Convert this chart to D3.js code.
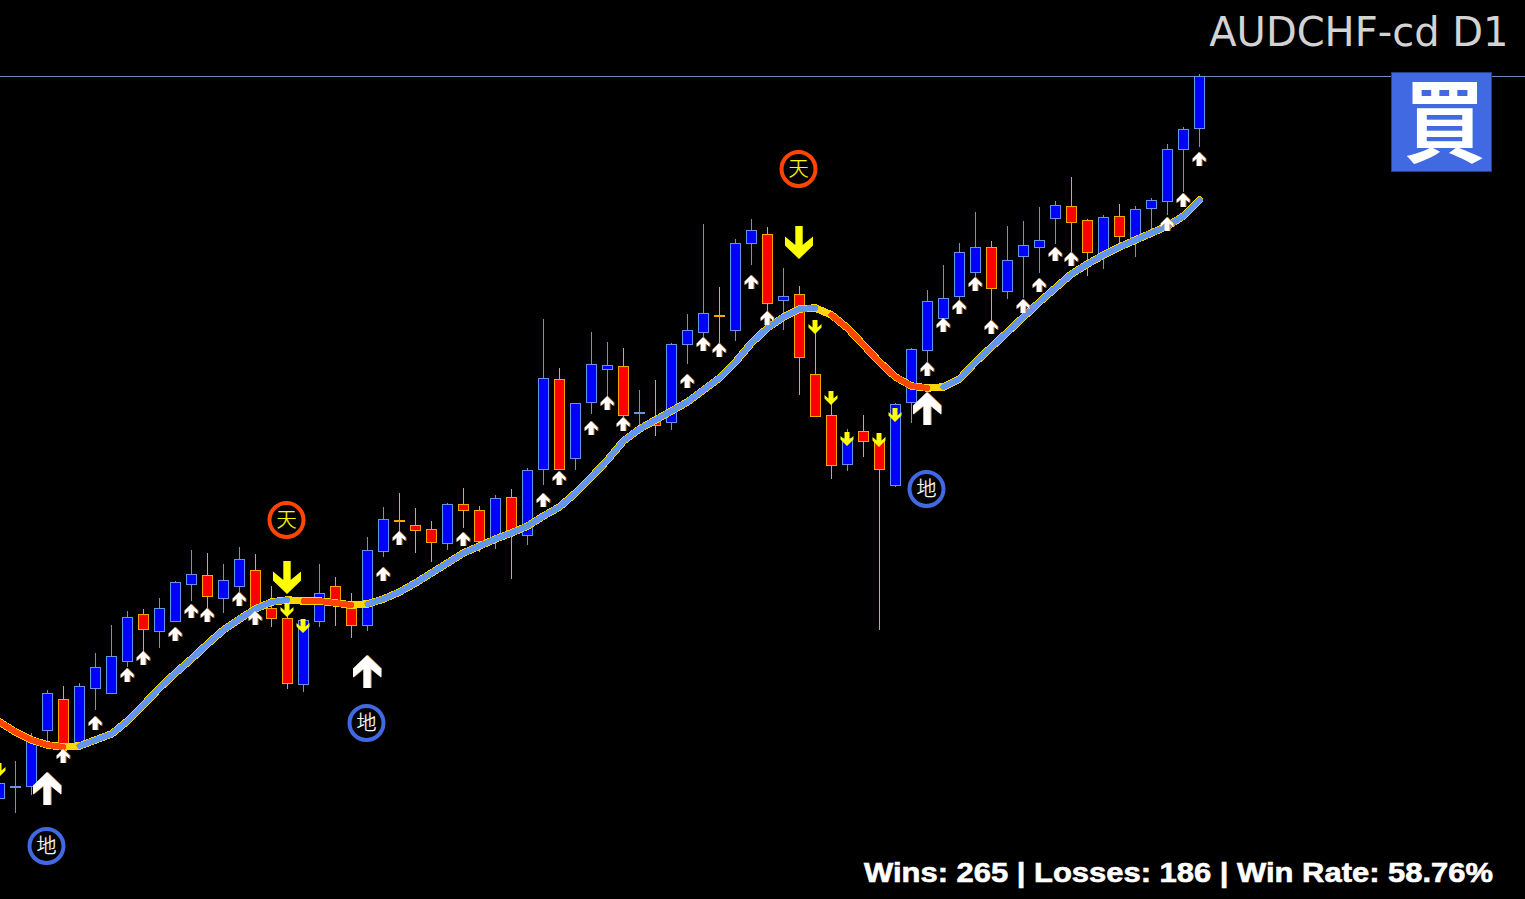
<!DOCTYPE html>
<html>
<head>
<meta charset="utf-8">
<title>AUDCHF-cd D1</title>
<script src="https://cdn.jsdelivr.net/npm/d3@7"></script>
<style>
  html, body { margin: 0; padding: 0; background: #000; overflow: hidden; }
  svg { display: block; }
</style>
</head>
<body>
<svg id="chart" width="1525" height="899"></svg>
<script>
'use strict';

const SYMBOL = 'AUDCHF-cd D1';
const STATS = 'Wins: 265 | Losses: 186 | Win Rate: 58.76%';

// Daily bars, oldest first
const opens = [
  .5300, .5311, .5312, .5368, .5400, .5354, .5410, .5405, .5437, .5485,
  .5467, .5477, .5514, .5524, .5500, .5512, .5529, .5491, .5481, .5414,
  .5477, .5513, .5491, .5473, .5547, .5579, .5574, .5570, .5555, .5595,
  .5589, .5559, .5602, .5563, .5629, .5720, .5640, .5696, .5729, .5733,
  .5685, .5680, .5676, .5754, .5766, .5784, .5768, .5855, .5865, .5798,
  .5805, .5725, .5684, .5634, .5668, .5658, .5613, .5696, .5748, .5780,
  .5802, .5826, .5852, .5807, .5842, .5851, .5880, .5893, .5879, .5844,
  .5883, .5861, .5890, .5897, .5949, .5970,
];
const closes = [
  .5316, .5313, .5359, .5406, .5352, .5413, .5432, .5443, .5482, .5469,
  .5491, .5517, .5525, .5502, .5519, .5540, .5491, .5480, .5415, .5479,
  .5506, .5493, .5473, .5549, .5580, .5577, .5568, .5556, .5595, .5588,
  .5557, .5601, .5567, .5629, .5721, .5629, .5696, .5735, .5734, .5683,
  .5687, .5673, .5755, .5769, .5786, .5782, .5856, .5869, .5795, .5803,
  .5741, .5682, .5633, .5661, .5657, .5629, .5695, .5750, .5798, .5801,
  .5847, .5852, .5810, .5839, .5854, .5859, .5894, .5876, .5846, .5882,
  .5862, .5890, .5899, .5950, .5970, .6023,
];
const highs = [
  .5323, .5338, .5366, .5409, .5413, .5416, .5446, .5474, .5488, .5490,
  .5501, .5518, .5549, .5546, .5535, .5552, .5545, .5513, .5484, .5479,
  .5535, .5522, .5506, .5562, .5592, .5606, .5591, .5578, .5596, .5611,
  .5593, .5604, .5610, .5631, .5780, .5731, .5696, .5767, .5757, .5751,
  .5709, .5719, .5756, .5785, .5875, .5812, .5860, .5880, .5872, .5831,
  .5813, .5779, .5704, .5670, .5684, .5666, .5696, .5751, .5809, .5834,
  .5856, .5887, .5858, .5873, .5878, .5892, .5898, .5922, .5880, .5884,
  .5895, .5893, .5901, .5955, .5972, .6025,
];
const lows = [
  .5293, .5286, .5304, .5356, .5349, .5354, .5389, .5405, .5432, .5447,
  .5451, .5477, .5498, .5491, .5486, .5507, .5487, .5472, .5410, .5407,
  .5472, .5473, .5461, .5468, .5542, .5566, .5546, .5537, .5549, .5571,
  .5547, .5550, .5520, .5554, .5614, .5629, .5629, .5685, .5702, .5682,
  .5669, .5663, .5669, .5735, .5762, .5756, .5758, .5834, .5787, .5769,
  .5704, .5682, .5620, .5628, .5642, .5469, .5612, .5676, .5737, .5779,
  .5797, .5822, .5779, .5800, .5801, .5826, .5855, .5847, .5823, .5830,
  .5856, .5842, .5869, .5884, .5907, .5952,
];

// Trend line value per bar
const trendLine = [
  .5377, .5367, .5359, .5354, .5352, .5353, .5359, .5365, .5378, .5394,
  .5411, .5426, .5440, .5455, .5469, .5480, .5490, .5497, .5499, .5498,
  .5498, .5496, .5494, .5495, .5500, .5507, .5516, .5526, .5536, .5546,
  .5553, .5560, .5566, .5573, .5583, .5592, .5606, .5622, .5639, .5658,
  .5670, .5679, .5688, .5697, .5709, .5721, .5737, .5756, .5771, .5782,
  .5790, .5791, .5784, .5771, .5754, .5737, .5722, .5713, .5711, .5712,
  .5720, .5737, .5752, .5767, .5782, .5797, .5811, .5825, .5835, .5844,
  .5852, .5859, .5866, .5873, .5883, .5899,
];
// First and last bar of each trend run, the gold base shows between runs
const fallingRuns = [[0, 4], [19, 22], [52, 58]];
const risingRuns = [[5, 18], [23, 51], [59, 75]];

// Signals: bar index and the price at the arrow tip
const smallUpBars = [4, 6, 8, 9, 11, 12, 13, 15, 16, 24, 25, 29, 34, 35, 37, 38, 39,
  43, 44, 45, 47, 48, 58, 59, 60, 61, 62, 64, 65, 66, 67, 73, 74, 75];
const smallUpTips = [.5350, .5383, .5431, .5448, .5472, .5495, .5491, .5507, .5488,
  .5532, .5568, .5567, .5606, .5628, .5678, .5703, .5682, .5725, .5762, .5756,
  .5824, .5788, .5737, .5781, .5799, .5822, .5779, .5800, .5821, .5852, .5847,
  .5882, .5906, .5947];
const smallDownBars = [0, 18, 19, 51, 52, 53, 55, 56];
const smallDownTips = [.5322, .5482, .5466, .5765, .5694, .5653, .5652, .5677];
const bigUpBars = [3, 23, 58];
const bigUpTips = [.5327, .5444, .5707];
const bigDownBars = [18, 50];
const bigDownTips = [.5505, .5840];

// Tops and bottoms
const topBars = [18, 50];
const topPrices = [.5579, .5930];
const bottomBars = [3, 23, 58];
const bottomPrices = [.5253, .5376, .5610];

const COLORS = {
  upFill: '#0000ff',
  upEdge: '#6495ed',
  downFill: '#ff0000',
  downEdge: '#ffa500',
  base: '#ffd700',
  rising: '#6495ed',
  falling: '#ff4500',
  priceLine: '#7088bd',
  badge: '#4169e1',
};

const svg = d3.select('#chart');

const x = d3.scaleLinear().domain([0, opens.length - 1]).range([-1, 1199]);
const y = d3.scaleLinear().domain([0.5199, 0.6099]).range([900, 0]);
const py = v => Math.round(y(v));

svg.append('rect').attr('width', 1525).attr('height', 899).attr('fill', '#000');

// Last price line
svg.append('line')
  .attr('x1', 0).attr('x2', 1525)
  .attr('y1', py(closes[closes.length - 1]) + 0.5)
  .attr('y2', py(closes[closes.length - 1]) + 0.5)
  .attr('stroke', COLORS.priceLine);

// Candles
const bars = opens.map((o, i) => ({ i, o, c: closes[i], h: highs[i], l: lows[i], up: closes[i] >= o }));
const candle = svg.append('g').attr('shape-rendering', 'crispEdges')
  .selectAll('g').data(bars).enter().append('g');

candle.append('line')
  .attr('x1', d => x(d.i) + 0.5).attr('x2', d => x(d.i) + 0.5)
  .attr('y1', d => py(d.h)).attr('y2', d => py(d.l))
  .attr('stroke', d => d.up ? COLORS.upEdge : COLORS.downEdge);

candle.append('rect')
  .attr('x', d => x(d.i) - 4.5)
  .attr('width', 10)
  .attr('y', d => py(Math.max(d.o, d.c)) + 0.5)
  .attr('height', d => py(Math.min(d.o, d.c)) - py(Math.max(d.o, d.c)) - 1)
  .attr('fill', d => d.up ? COLORS.upFill : COLORS.downFill)
  .attr('stroke', d => d.up ? COLORS.upEdge : COLORS.downEdge);

// Trend line: gold base, coloured runs on top
const trendPath = d3.line().x(i => x(i) + 0.5).y(i => y(trendLine[i]));
const trendLayer = svg.append('g')
  .attr('fill', 'none')
  .attr('stroke-linecap', 'round')
  .attr('stroke-linejoin', 'round')
  .attr('shape-rendering', 'crispEdges');

trendLayer.append('path')
  .attr('d', trendPath(d3.range(trendLine.length)))
  .attr('stroke', COLORS.base)
  .attr('stroke-width', 7.5);

function drawRuns(runs, color) {
  trendLayer.selectAll(null).data(runs).enter().append('path')
    .attr('d', r => trendPath(d3.range(r[0], r[1] + 1)))
    .attr('stroke', color)
    .attr('stroke-width', 6);
}
drawRuns(fallingRuns, COLORS.falling);
drawRuns(risingRuns, COLORS.rising);

// Arrows, drawn with the tip at 0,0 pointing up
const SMALL_ARROW = 'M0,0L6.5,6.5V10L2.5,6.5V14H-2.5V6.5L-6.5,10V6.5Z';
const BIG_ARROW = 'M0,0L14,13.5V22.5L3.7,14V33H-3.7V14L-14,22.5V13.5Z';

function drawArrows(barIdx, tips, shape, color, flip, fringe) {
  const arrow = svg.append('g').selectAll('g').data(barIdx).enter().append('g')
    .attr('transform', (b, k) => `translate(${x(b)},${py(tips[k])})${flip ? ' scale(1,-1)' : ''}`);
  // text-style colour fringe on the right edge
  if (fringe) {
    arrow.append('path').attr('d', shape).attr('fill', fringe).attr('transform', 'translate(1,0)');
  }
  arrow.append('path').attr('d', shape).attr('fill', color);
}
drawArrows(smallUpBars, smallUpTips, SMALL_ARROW, '#fff', false, '#c87a2a');
drawArrows(smallDownBars, smallDownTips, SMALL_ARROW, '#ffff00', true);
drawArrows(bigUpBars, bigUpTips, BIG_ARROW, '#fff', false, '#c87a2a');
drawArrows(bigDownBars, bigDownTips, BIG_ARROW, '#ffff00', true);

// Top / bottom badges
function drawRings(barIdx, prices, ringColor, label, labelColor) {
  const ring = svg.append('g').selectAll('g').data(barIdx).enter().append('g')
    .attr('transform', (b, k) => `translate(${x(b) - 0.5},${y(prices[k])})`);
  ring.append('circle').attr('r', 17).attr('fill', 'none')
    .attr('stroke', ringColor).attr('stroke-width', 4);
  ring.append('text')
    .attr('text-anchor', 'middle').attr('y', 7)
    .attr('font-family', '"Noto Sans CJK SC"').attr('font-size', 20).attr('font-weight', 300)
    .attr('fill', labelColor).attr('stroke', labelColor).attr('stroke-width', 0.25)
    .text(label);
}
drawRings(topBars, topPrices, COLORS.falling, '天', '#ffff00');
drawRings(bottomBars, bottomPrices, COLORS.badge, '地', '#fff');

// Symbol caption
svg.append('text')
  .attr('x', 1508.5).attr('y', 46)
  .attr('text-anchor', 'end')
  .attr('font-family', '"DejaVu Sans"').attr('font-size', 40)
  .attr('fill', '#d3d3d3')
  .text(SYMBOL);

// Buy badge
svg.append('rect')
  .attr('x', 1391.5).attr('y', 72.5).attr('width', 100).attr('height', 99)
  .attr('fill', COLORS.badge).attr('stroke', '#27408b');
svg.append('text')
  .attr('transform', 'translate(1444.5,155) scale(0.9,1)')
  .attr('text-anchor', 'middle')
  .attr('font-family', '"Noto Sans CJK TC"').attr('font-size', 90).attr('font-weight', 700)
  .attr('fill', '#fff')
  .text('買');

// Stats
svg.append('text')
  .attr('x', 864).attr('y', 882)
  .attr('textLength', 629).attr('lengthAdjust', 'spacingAndGlyphs')
  .attr('font-family', '"Liberation Sans"').attr('font-size', 27).attr('font-weight', 700)
  .attr('fill', '#fff').attr('stroke', '#fff').attr('stroke-width', 0.6)
  .text(STATS);
</script>
</body>
</html>
